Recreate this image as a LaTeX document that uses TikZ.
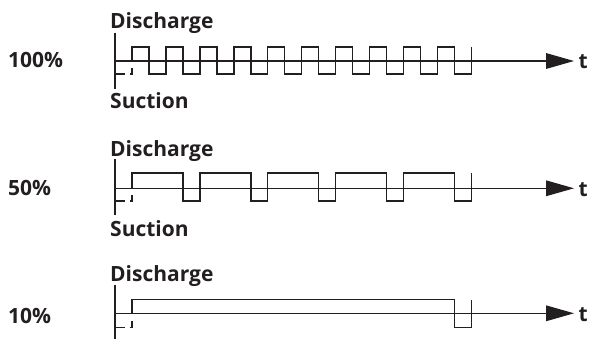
\documentclass[tikz,border=0pt]{standalone}
\usepackage{fontspec}
\setsansfont{Open Sans}
\usetikzlibrary{arrows.meta}
\definecolor{ink}{HTML}{231F20}
\tikzset{
  lbl/.style={inner sep=0pt, anchor=base west, text=ink, font=\sffamily\bfseries\fontsize{21}{25}\selectfont},
  axisline/.style={draw=ink, line width=2pt},
  timeline/.style={draw=ink, line width=1.3pt, -{Triangle[length=28pt,width=15.6pt]}},
  wave/.style={draw=ink, line width=1.3pt, line join=miter},
  dashline/.style={draw=ink, line width=1.2pt, dash pattern=on 10.5pt off 5pt on 8pt off 40pt}
}
\begin{document}
\begin{tikzpicture}[x=1pt,y=-1pt]
\useasboundingbox (0,0) rectangle (591,339);
% ---------- 100% ----------
\node[lbl] (p100) at (8,68) {100\%};
\node[lbl] (dis1) at (110,29) {Discharge};
\node[lbl] (suc1) at (110,109) {Suction};
\coordinate (a1t) at (114.7,33);
\coordinate (a1b) at (114.7,89);
\coordinate (o1) at (114.7,61);
\coordinate (e1) at (574,61);
\node[lbl] (t1) at (578.5,69) {t};
\draw[axisline] (a1t) -- (a1b);
\draw[timeline] (o1) -- (e1);
\draw[dashline] (114.7,74) -| (132,61);
\draw[wave] (132,61) -- (132,47)
  \foreach \k in {0,...,9} { -- ({149+33.96*\k},47) -- ({149+33.96*\k},74) -- ({132+33.96*(\k+1)},74) -- ({132+33.96*(\k+1)},47) };
% ---------- 50% ----------
\node[lbl] (p50) at (8,196) {50\%};
\node[lbl] (dis2) at (110,156.3) {Discharge};
\node[lbl] (suc2) at (110,236.5) {Suction};
\coordinate (a2t) at (114.7,159.5);
\coordinate (a2b) at (114.7,215);
\coordinate (o2) at (114.7,188.3);
\coordinate (e2) at (574,188.3);
\node[lbl] (t2) at (578.5,196.3) {t};
\draw[axisline] (a2t) -- (a2b);
\draw[timeline] (o2) -- (e2);
\draw[dashline] (114.7,201) -| (132,188.3);
\draw[wave] (132,188.3) -- (132,173)
  \foreach \k in {0,...,4} { -- ({183+67.92*\k},173) -- ({183+67.92*\k},201) -- ({132+67.92*(\k+1)},201) -- ({132+67.92*(\k+1)},173) };
% ---------- 10% ----------
\node[lbl] (p10) at (8,323) {10\%};
\node[lbl] (dis3) at (110,281.5) {Discharge};
\coordinate (a3t) at (114.7,285);
\coordinate (a3b) at (114.7,339);
\coordinate (o3) at (114.7,313.3);
\coordinate (e3) at (574,313.3);
\node[lbl] (t3) at (578.5,321.3) {t};
\draw[axisline] (a3t) -- (a3b);
\draw[timeline] (o3) -- (e3);
\draw[dashline] (114.7,327.5) -| (132,313.3);
\draw[wave] (132,313.3) -- (132,299.5) -- (454.5,299.5) -- (454.5,327.5) -- (471.6,327.5) -- (471.6,299.5);
\end{tikzpicture}
\end{document}
